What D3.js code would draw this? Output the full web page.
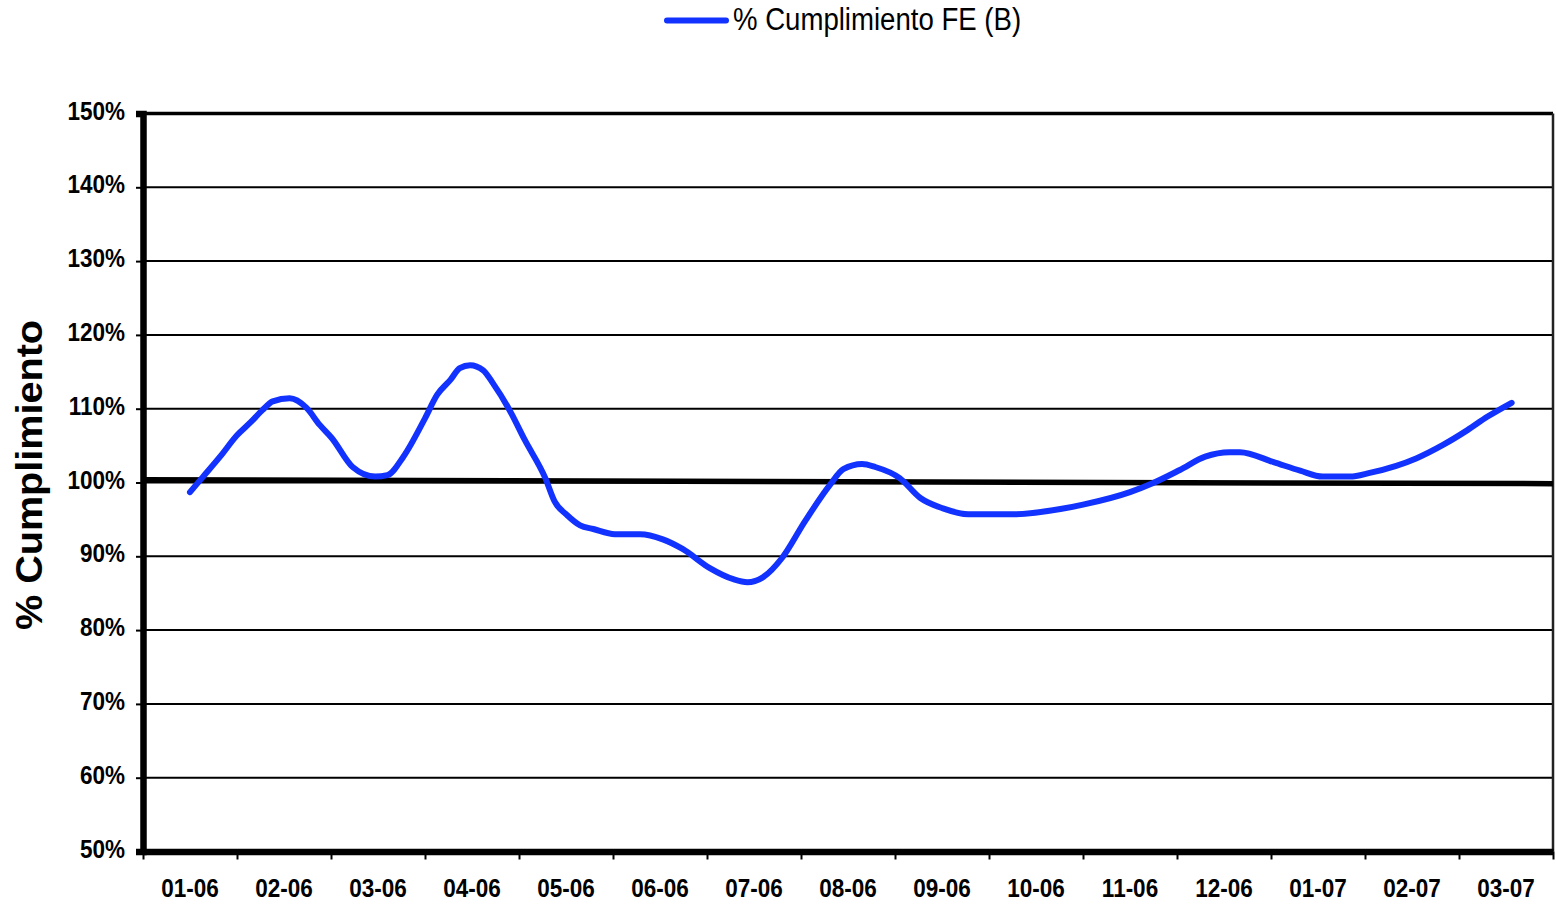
<!DOCTYPE html>
<html>
<head>
<meta charset="utf-8">
<script src="https://cdn.jsdelivr.net/npm/d3@7"></script>
<style>
  html, body { margin: 0; padding: 0; background: #fff; }
  svg { display: block; }
  text { font-family: "Liberation Sans", Arial, sans-serif; fill: #000; }
</style>
</head>
<body>
<svg id="chart" width="1556" height="905"></svg>
<script>
// Month categories on the x axis
const meses = ["01-06","02-06","03-06","04-06","05-06","06-06","07-06","08-06",
               "09-06","10-06","11-06","12-06","01-07","02-07","03-07"];

// Y axis ticks (%)
const yTicks = [50, 60, 70, 80, 90, 100, 110, 120, 130, 140, 150];

// Sampling position in months since 01-06 start (0 = beginning of January 2006)
const periodo = [0.50,0.64,0.82,1.00,1.14,1.27,1.38,1.56,1.74,1.88,2.01,2.23,2.47,2.60,2.77,
                 3.00,3.13,3.27,3.37,3.48,3.62,3.72,3.90,4.06,4.28,4.38,4.51,4.65,4.79,5.02,
                 5.29,5.53,5.74,6.03,6.28,6.43,6.60,6.80,7.04,7.31,7.45,7.65,7.79,8.05,8.27,
                 8.51,8.78,9.26,9.76,10.00,10.50,10.74,11.03,11.30,11.56,11.67,12.02,12.31,
                 12.55,12.84,13.05,13.55,13.83,14.09,14.30,14.56];

// % Cumplimiento FE (B)
const cumplimiento = [98.7,100.8,103.5,106.4,108.1,109.8,111.0,111.4,110.1,107.8,106.0,102.1,100.8,101.0,103.5,
                      108.7,111.9,113.9,115.5,115.9,115.2,113.5,109.8,105.8,100.6,97.4,95.6,94.2,93.7,93.0,
                      93.0,92.3,91.0,88.4,86.9,86.5,87.2,89.8,94.7,99.7,101.8,102.5,102.1,100.6,97.9,
                      96.5,95.7,95.7,96.4,97.0,98.7,99.9,101.7,103.5,104.1,104.1,102.8,101.6,
                      100.8,100.8,101.3,103.3,105.1,107.1,108.9,110.8];

// Linear trend of the series (value at start and end of the period)
const tendenciaPeriodo = [0, 15];
const tendenciaValor = [100.38, 99.84];

const svg = d3.select("#chart");

const plot = { left: 143, right: 1553, top: 113.5, bottom: 851.5 };

const xMes = d3.scaleLinear().domain([0, meses.length]).range([plot.left, plot.right]);
const xBand = d3.scaleBand().domain(meses).range([plot.left, plot.right]);
const y = d3.scaleLinear().domain([50, 150]).range([plot.bottom, plot.top]);

// Horizontal gridlines
svg.append("g")
  .selectAll("line")
  .data(yTicks.filter(d => d > 50))
  .join("line")
  .attr("x1", plot.left).attr("x2", plot.right)
  .attr("y1", d => y(d)).attr("y2", d => y(d))
  .attr("stroke", "#000")
  .attr("stroke-width", d => d === 150 ? 3.5 : 2);

// Right border of the plot area
svg.append("line")
  .attr("x1", plot.right).attr("x2", plot.right)
  .attr("y1", y(150)).attr("y2", y(50))
  .attr("stroke", "#222").attr("stroke-width", 2.5);

// Y axis with small outer ticks
const yAxis = svg.append("g")
  .attr("transform", `translate(${plot.left},0)`)
  .call(d3.axisLeft(y).tickValues(yTicks).tickSize(7).tickFormat(""));
yAxis.select(".domain").attr("stroke", "#000").attr("stroke-width", 6.5);
yAxis.selectAll(".tick line").attr("stroke", "#000").attr("stroke-width", 2);

// X axis with ticks at month boundaries
const xAxis = svg.append("g")
  .attr("transform", `translate(0,${plot.bottom})`)
  .call(d3.axisBottom(xMes).tickValues(d3.range(meses.length + 1)).tickSize(8).tickFormat("").tickSizeOuter(0));
xAxis.select(".domain").attr("stroke", "#000").attr("stroke-width", 6.5);
xAxis.selectAll(".tick line").attr("stroke", "#000").attr("stroke-width", 2);

// Y tick labels
svg.append("g")
  .selectAll("text")
  .data(yTicks)
  .join("text")
  .attr("transform", d => `translate(125,${y(d) + 6}) scale(0.9,1)`)
  .attr("text-anchor", "end")
  .attr("font-size", 25)
  .attr("font-weight", "bold")
  .text(d => d + "%");

// X tick labels
svg.append("g")
  .selectAll("text")
  .data(meses)
  .join("text")
  .attr("transform", d => `translate(${xBand(d) + xBand.bandwidth() / 2},897) scale(0.9,1)`)
  .attr("text-anchor", "middle")
  .attr("font-size", 25)
  .attr("font-weight", "bold")
  .text(d => d);

// Y axis title
svg.append("text")
  .attr("transform", `translate(42,475) rotate(-90)`)
  .attr("text-anchor", "middle")
  .attr("font-size", 36)
  .attr("font-weight", "bold")
  .attr("textLength", 310)
  .attr("lengthAdjust", "spacingAndGlyphs")
  .text("% Cumplimiento");

// Trend line
svg.append("line")
  .attr("x1", xMes(tendenciaPeriodo[0])).attr("x2", xMes(tendenciaPeriodo[1]))
  .attr("y1", y(tendenciaValor[0])).attr("y2", y(tendenciaValor[1]))
  .attr("stroke", "#000").attr("stroke-width", 5.5);

// Series line
const serie = periodo.map((p, i) => ({ p, v: cumplimiento[i] }));
const linea = d3.line()
  .x(d => xMes(d.p))
  .y(d => y(d.v))
  .curve(d3.curveMonotoneX);

svg.append("path")
  .datum(serie)
  .attr("d", linea)
  .attr("fill", "none")
  .attr("stroke", "#1232ff")
  .attr("stroke-width", 6)
  .attr("stroke-linecap", "round")
  .attr("stroke-linejoin", "round");

// Legend
const legend = svg.append("g");
legend.append("line")
  .attr("x1", 667).attr("x2", 726).attr("y1", 20.5).attr("y2", 20.5)
  .attr("stroke", "#1232ff").attr("stroke-width", 6).attr("stroke-linecap", "round");
legend.append("text")
  .attr("transform", "translate(733,29.5) scale(0.89,1)")
  .attr("font-size", 31)
  .text("% Cumplimiento FE (B)");
</script>
</body>
</html>
